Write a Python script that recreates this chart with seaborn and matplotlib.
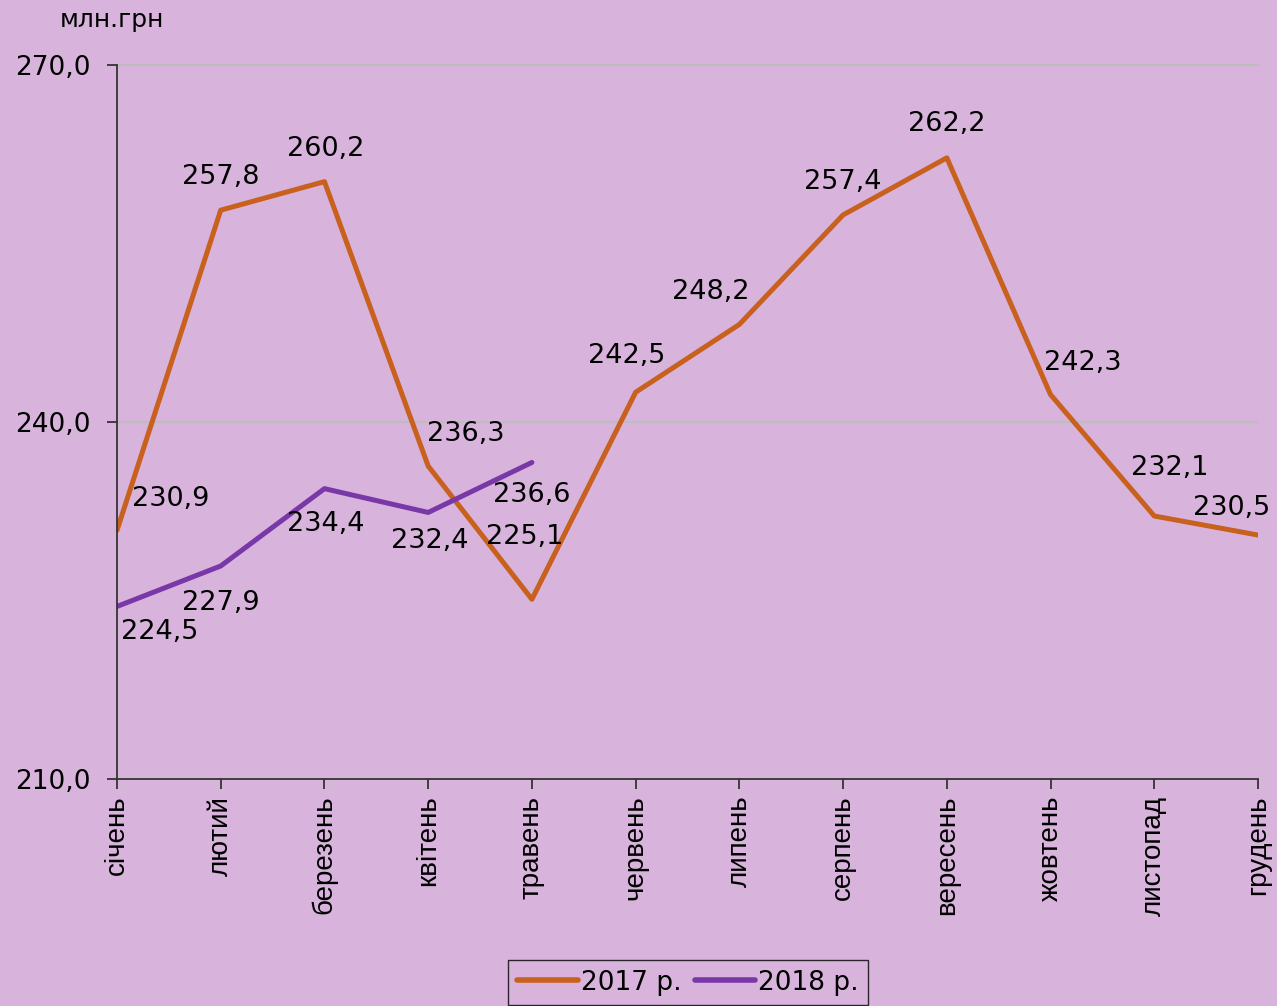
import matplotlib
matplotlib.use("Agg")
import matplotlib.pyplot as plt
import seaborn as sns
import pandas as pd

months = ["січень", "лютий", "березень", "квітень", "травень", "червень",
          "липень", "серпень", "вересень", "жовтень", "листопад", "грудень"]
values_2017 = [230.9, 257.8, 260.2, 236.3, 225.1, 242.5, 248.2, 257.4, 262.2, 242.3, 232.1, 230.5]
values_2018 = [224.5, 227.9, 234.4, 232.4, 236.6]
series_names = ["2017 р.", "2018 р."]
y_ticks = [210.0, 240.0, 270.0]

# label offsets in pixels (dx, dy) relative to each point
offsets_2017 = [(54, 31), (0, 33), (1, 33), (38, 32), (-7, 62), (-9, 36),
                (-29, 32), (0, 33), (0, 34), (32, 32), (15, 48), (-26, 27)]
offsets_2018 = [(43, -26), (0, -37), (1, -35), (2, -29), (0, -33)]

BG = "#D8B4DC"
ORANGE = "#C8601E"
PURPLE = "#7838A8"

rows = []
for i, v in enumerate(values_2017):
    rows.append({"month": i, "value": v, "year": series_names[0]})
for i, v in enumerate(values_2018):
    rows.append({"month": i, "value": v, "year": series_names[1]})
df = pd.DataFrame(rows)

sns.set_theme(style="white")
plt.rcParams["font.family"] = ["DejaVu Sans"]
plt.rcParams["text.color"] = "black"
plt.rcParams["legend.labelcolor"] = "black"

fig = plt.figure(figsize=(12.77, 10.06), dpi=100)
fig.patch.set_facecolor(BG)
ax = fig.add_axes([117 / 1277, 1 - 779 / 1006, (1258 - 117) / 1277, (779 - 65) / 1006])
ax.set_facecolor(BG)

sns.lineplot(data=df, x="month", y="value", hue="year",
             palette={series_names[0]: ORANGE, series_names[1]: PURPLE},
             linewidth=3.6, ax=ax, legend=True, solid_capstyle="round")

ax.set_xlim(0, 11)
ax.set_ylim(210, 270)
ax.set_yticks(y_ticks)
ax.set_yticklabels([f"{t:.1f}".replace(".", ",") for t in y_ticks], fontsize=19)
ax.set_xticks(range(len(months)))
ax.set_xticklabels(months, rotation=90, fontsize=20, family="Liberation Sans")
ax.set_xlabel("")
ax.set_ylabel("")

for y in y_ticks[1:]:
    ax.axhline(y, color="#BDBDBD", linewidth=1.5, zorder=0.5, clip_on=False)

for s in ["top", "right"]:
    ax.spines[s].set_visible(False)
for s in ["left", "bottom"]:
    ax.spines[s].set_color("#333333")
    ax.spines[s].set_linewidth(1.3)
    ax.spines[s].set_zorder(3)
ax.tick_params(axis="both", which="both", direction="out", length=7, width=1.3,
               color="#333333", labelcolor="black", pad=6)
ax.tick_params(axis="y", left=True, pad=12)
ax.tick_params(axis="x", bottom=True, pad=5)

for vals, offs in ((values_2017, offsets_2017), (values_2018, offsets_2018)):
    for i, (v, (dx, dy)) in enumerate(zip(vals, offs)):
        ax.annotate(f"{v:.1f}".replace(".", ","), (i, v), xytext=(dx * 0.72, dy * 0.72),
                    textcoords="offset points", ha="center", va="center",
                    fontsize=19.5, color="black", annotation_clip=False)

fig.text(112 / 1277, 1 - 20 / 1006, "млн.грн", ha="center", va="center",
         fontsize=18, color="black")

handles, labels = ax.get_legend_handles_labels()
ax.get_legend().remove()
leg = fig.legend(handles, labels, loc="lower center", bbox_to_anchor=(688 / 1277, -0.012),
                 ncol=2, fontsize=19, frameon=True, fancybox=False, handlelength=2.3,
                 handletextpad=0.1, columnspacing=0.5, borderpad=0.35)
leg.get_frame().set_edgecolor("black")
leg.get_frame().set_linewidth(1.0)
leg.get_frame().set_facecolor(BG)
for line in leg.get_lines():
    line.set_linewidth(4)

fig.savefig("out.png", dpi=100, facecolor=BG)
